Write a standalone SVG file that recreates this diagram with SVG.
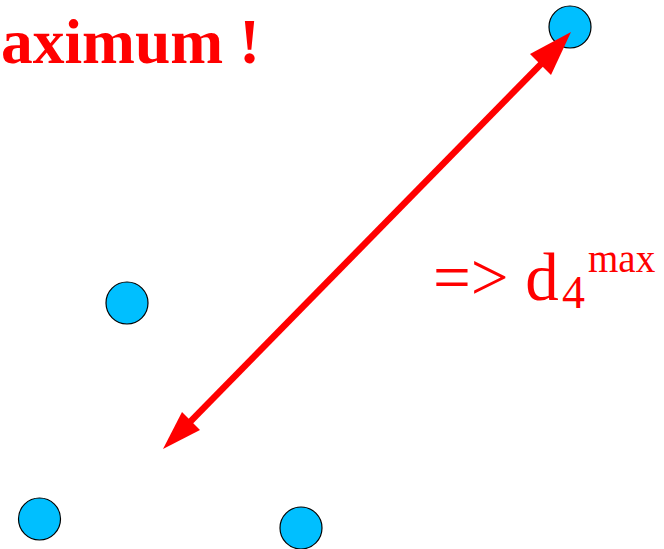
<svg xmlns="http://www.w3.org/2000/svg" width="664" height="549" viewBox="0 0 664 549">
<style>
.node{fill:#00bfff;stroke:#000;stroke-width:1.2}
.red{fill:#ff0000}
.t{font-family:"Liberation Serif",serif;fill:#ff0000}
</style>
<rect width="664" height="549" fill="#fff"/>
<text class="t" x="-59" y="63" font-size="63.5" font-weight="bold">Maximum !</text>
<g id="n1"><circle class="node" cx="570" cy="27" r="21"/></g>
<g id="n2"><circle class="node" cx="127" cy="303" r="21"/></g>
<g id="n3"><circle class="node" cx="39.5" cy="519" r="21"/></g>
<g id="n4"><circle class="node" cx="301" cy="528" r="21"/></g>
<g id="connectors">
<line x1="188" y1="424" x2="543" y2="62" stroke="#ff0000" stroke-width="6.5"/>
<polygon class="red" points="571,32 551,75 530,54"/>
<polygon class="red" points="163,449 182,412 200,430"/>
</g>
<text class="t" x="433" y="300" font-size="67">=&gt; d</text>
<text class="t" x="562" y="308" font-size="46">4</text>
<text class="t" x="588" y="272" font-size="39">max</text>
</svg>
